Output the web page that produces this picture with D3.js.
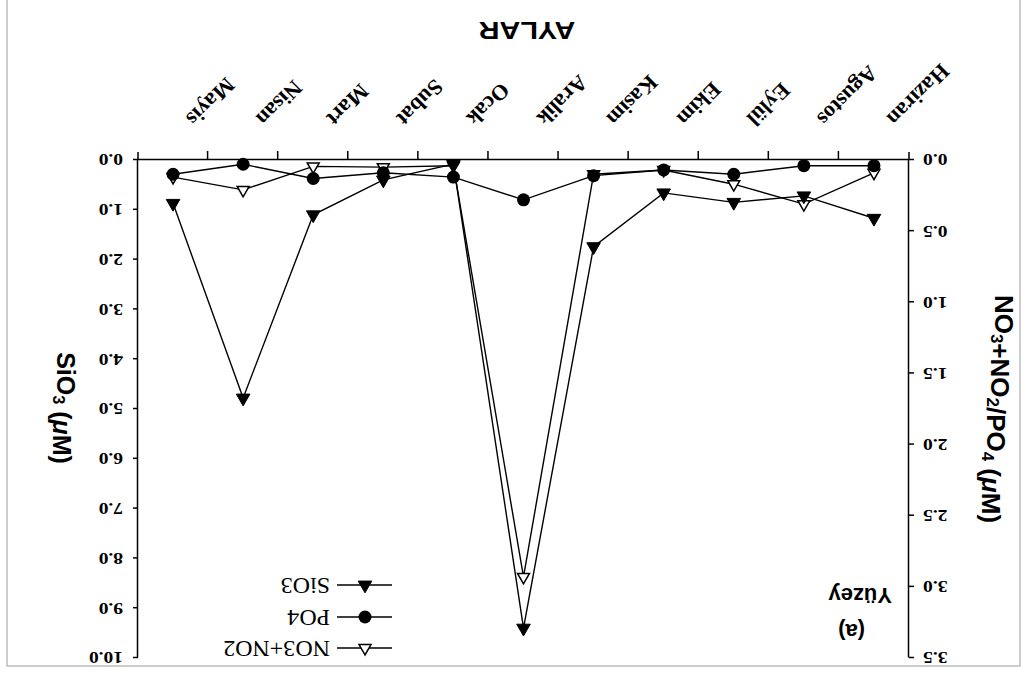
<!DOCTYPE html>
<html><head><meta charset="utf-8">
<script src="https://cdn.jsdelivr.net/npm/d3@7"></script>
<style>body{margin:0;background:#fff} svg{display:block}</style>
</head><body>
<svg id="c" width="1026" height="683"></svg>
<script>
const months = ["Haziran","Agustos","Eylül","Ekim","Kasim","Aralik","Ocak","Subat","Mart","Nisan","Mayis"];
const sio3 = [1.17,0.72,0.85,0.66,1.74,9.4,0.08,0.4,1.1,4.78,0.87];
const po4 = [0.04,0.04,0.10,0.07,0.11,0.28,0.12,0.09,0.13,0.03,0.10];
const no3no2 = [0.09,0.31,0.17,0.07,0.10,2.93,0.04,0.05,0.045,0.21,0.12];
const leftTicks = [0,0.5,1,1.5,2,2.5,3,3.5];
const rightTicks = [0,1,2,3,4,5,6,7,8,9,10];
const legendLabels = ["NO3+NO2","PO4","SiO3"];

const svg = d3.select("#c");
// whole chart is drawn upright, then turned upside down like the reference scan
const root = svg.append("g").attr("transform","rotate(180 513 341.5)");

root.append("rect").attr("x",6).attr("y",17).attr("width",1013).attr("height",680)
  .attr("fill","none").attr("stroke","#9a9a9a").attr("stroke-width",1);

const x = d3.scaleLinear().domain([0,11]).range([117,888]);
const yL = d3.scaleLinear().domain([0,3.5]).range([523,25]);
const yR = d3.scaleLinear().domain([0,10]).range([523,25]);
const X0 = x(0), X1 = x(11), Y0 = yL(0);

const serif = "'Liberation Serif','Times New Roman',serif";
const sans = "'Liberation Sans',Arial,sans-serif";

// axes
const gx = root.append("g").attr("transform",`translate(0,${Y0})`)
  .call(d3.axisBottom(x).tickValues(d3.range(1,11)).tickSize(9).tickSizeOuter(0).tickFormat(""));
const gl = root.append("g").attr("transform",`translate(${X0},0)`)
  .call(d3.axisLeft(yL).tickValues(leftTicks).tickSize(5).tickSizeOuter(0).tickFormat(""));
const gr = root.append("g").attr("transform",`translate(${X1},0)`)
  .call(d3.axisRight(yR).tickValues(rightTicks).tickSize(5).tickSizeOuter(0).tickFormat(""));
[gx,gl,gr].forEach(g=>{
  g.selectAll("path,line").attr("stroke","#000").attr("stroke-width",1.5);
});
root.append("line").attr("x1",X0).attr("x2",X0).attr("y1",Y0).attr("y2",Y0+8).attr("stroke","#000").attr("stroke-width",1.5);
root.append("line").attr("x1",X1).attr("x2",X1).attr("y1",Y0).attr("y2",Y0+8).attr("stroke","#000").attr("stroke-width",1.5);

// tick labels
const f1 = d3.format(".1f");
leftTicks.forEach(v=>{
  root.append("text").attr("transform",`translate(${X0-14},${yL(v)}) scale(1.22,1)`)
    .attr("text-anchor","end").attr("dy","0.35em")
    .attr("font-family",serif).attr("font-weight","bold").attr("font-size",16).text(f1(v));
});
rightTicks.forEach(v=>{
  root.append("text").attr("transform",`translate(${X1+15},${yR(v)}) scale(1.22,1)`)
    .attr("text-anchor","start").attr("dy","0.35em")
    .attr("font-family",serif).attr("font-weight","bold").attr("font-size",16).text(f1(v));
});

// month labels
months.forEach((m,i)=>{
  root.append("text").attr("transform",`translate(${x(i+0.5)-12},${Y0+43}) rotate(-45)`)
    .attr("text-anchor","end")
    .attr("font-family",serif).attr("font-weight","bold").attr("font-size",22).text(m);
});

// axis titles
root.append("text").attr("transform",`translate(499,661) scale(1.2,1)`).attr("text-anchor","middle")
  .attr("font-family",sans).attr("font-weight","bold").attr("font-size",24).text("AYLAR");

function sub(t, s){ t.append("tspan").attr("font-size","0.65em").attr("dy","0.25em").text(s);
  t.append("tspan").attr("dy","-0.25em").text(""); }
const tl = root.append("text").attr("transform",`translate(31,274) rotate(-90)`).attr("text-anchor","middle")
  .attr("font-family",sans).attr("font-weight","bold").attr("font-size",26);
tl.append("tspan").text("NO"); sub(tl,"3"); tl.append("tspan").text("+NO"); sub(tl,"2");
tl.append("tspan").text("/PO"); sub(tl,"4"); tl.append("tspan").text(" (");
tl.append("tspan").attr("font-style","italic").text("μ"); tl.append("tspan").text("M)");

const tr = root.append("text").attr("transform",`translate(969,275) rotate(-90)`).attr("text-anchor","middle")
  .attr("font-family",sans).attr("font-weight","bold").attr("font-size",25);
tr.append("tspan").text("SiO"); sub(tr,"3"); tr.append("tspan").text(" (");
tr.append("tspan").attr("font-style","italic").text("μ"); tr.append("tspan").text("M)");

root.append("text").attr("x",161).attr("y",59).attr("font-family",sans).attr("font-weight","bold").attr("font-size",22).text("(a)");
root.append("text").attr("x",134).attr("y",95).attr("font-family",sans).attr("font-weight","bold").attr("font-size",22).text("Yüzey");

// series
const series = [
  {vals:no3no2, y:yL, shape:"otri"},
  {vals:po4, y:yL, shape:"circle"},
  {vals:sio3, y:yR, shape:"tri"}
];
const line = (ys)=>d3.line().x((d,i)=>x(i+0.5)).y(d=>ys(d));
series.forEach(s=>{
  root.append("path").datum(s.vals).attr("d",line(s.y)).attr("fill","none")
    .attr("stroke","#000").attr("stroke-width",1.4);
});
function marker(g, shape, cx, cy){
  if(shape==="circle"){
    g.append("circle").attr("cx",cx).attr("cy",cy).attr("r",6.5).attr("fill","#000");
  } else {
    g.append("path").attr("d",d3.symbol(d3.symbolTriangle, shape==="tri"?80:62)())
      .attr("transform",`translate(${cx},${cy})`)
      .attr("fill",shape==="tri"?"#000":"#fff").attr("stroke","#000").attr("stroke-width",shape==="tri"?1:1.5);
  }
}
series.forEach(s=>{
  s.vals.forEach((v,i)=>marker(root, s.shape, x(i+0.5), s.y(v)));
});

// legend
const legShapes = ["otri","circle","tri"];
const legY = [35,66,98];
legendLabels.forEach((lab,i)=>{
  root.append("line").attr("x1",634).attr("x2",689).attr("y1",legY[i]).attr("y2",legY[i])
    .attr("stroke","#000").attr("stroke-width",1.4);
  marker(root, legShapes[i], 661, legY[i]);
  root.append("text").attr("x",696).attr("y",legY[i]+7).attr("font-family",serif)
    .attr("font-size",24).text(lab);
});
</script>
</body></html>
